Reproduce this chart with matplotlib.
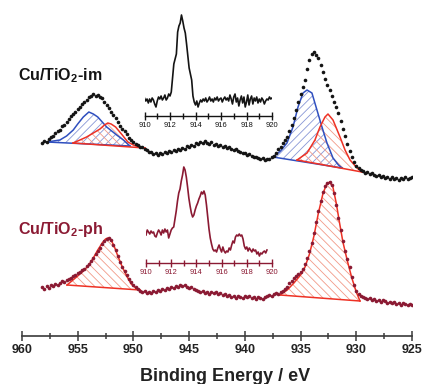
import numpy as np
import matplotlib.pyplot as plt
from matplotlib.ticker import MultipleLocator

plt.rcParams['font.family'] = ['Liberation Sans', 'DejaVu Sans']
plt.rcParams['mathtext.fontset'] = 'custom'
plt.rcParams['mathtext.rm'] = 'Liberation Sans'
plt.rcParams['mathtext.bf'] = 'Liberation Sans:bold'
plt.rcParams['hatch.linewidth'] = 0.6

BLACK = '#141414'
WINE = '#8b1a33'
BLUE = '#2f4fbf'
RED = '#ee3124'
BLUE_H = '#8796d6'
RED_H = '#f29a88'

# Cu 2p survey, binding energy from 958.2 eV down in 0.2 eV steps
be_start, be_step = 958.2, 0.2
im_counts = [193, 195, 194, 197, 199, 200, 203, 205, 206, 210, 211, 214, 217, 220, 222, 224,
             227, 229, 232, 234, 236, 239, 240, 242, 240, 241, 239, 238, 234, 231, 228, 224,
             221, 218, 214, 210, 207, 205, 202, 198, 196, 194, 192, 191, 189, 189, 187, 186,
             184, 184, 182, 183, 181, 183, 182, 184, 183, 185, 184, 186, 185, 187, 186, 188,
             187, 190, 189, 191, 190, 193, 192, 194, 193, 195, 193, 192, 194, 191, 192, 190,
             191, 189, 190, 188, 189, 187, 186, 187, 185, 184, 183, 183, 181, 182, 180, 179,
             179, 178, 177, 178, 176, 177, 177, 179, 180, 183, 187, 189, 193, 196, 199, 205,
             211, 218, 226, 234, 242, 249, 256, 267, 276, 282, 284, 281, 278, 271, 264, 257,
             251, 246, 240, 234, 229, 223, 215, 207, 200, 192, 185, 179, 174, 170, 168, 166,
             165, 163, 164, 162, 163, 161, 160, 161, 159, 160, 158, 159, 157, 159, 157, 158,
             156, 158, 157, 159, 157, 158, 159]
ph_counts = [49, 47, 50, 48, 51, 50, 52, 51, 53, 55, 54, 56, 57, 58, 60, 61,
             63, 64, 66, 67, 70, 72, 75, 78, 82, 85, 88, 92, 95, 97, 98, 96,
             91, 86, 80, 74, 69, 65, 61, 57, 54, 51, 49, 47, 45, 44, 45, 43,
             44, 43, 45, 44, 46, 45, 47, 46, 48, 47, 49, 48, 50, 49, 51, 50,
             51, 49, 48, 49, 47, 46, 45, 44, 45, 43, 44, 42, 44, 43, 44, 42,
             43, 41, 42, 40, 41, 39, 40, 38, 40, 39, 38, 40, 39, 40, 38, 39,
             37, 39, 38, 37, 39, 40, 41, 40, 42, 43, 42, 44, 45, 47, 49, 53,
             55, 58, 60, 62, 64, 67, 72, 78, 85, 93, 103, 114, 125, 135, 144, 150,
             153, 154, 151, 143, 131, 118, 106, 95, 85, 77, 69, 59, 51, 45, 42, 40,
             39, 38, 37, 38, 36, 37, 35, 36, 34, 36, 35, 33, 34, 33, 34, 32,
             33, 31, 33, 32, 31, 32, 31]

# fitted components (binding energy, intensity); first/last points lie on the baseline
im_blue1_be = [957.76, 956.6, 956.0, 955.4, 955.0, 954.5, 954.0, 953.6, 953.2, 952.4, 951.5, 950.9, 950.31]
im_blue1_y = [194, 196, 200, 206, 212, 219, 224, 222, 219, 209, 201, 196, 190]
im_red1_be = [955.42, 954.8, 954.2, 953.6, 953.0, 952.6, 952.3, 952.0, 951.6, 951.0, 950.5, 950.0, 949.5, 948.96]
im_red1_y = [193, 196, 199, 203, 207, 211, 213, 212, 209, 201, 194, 191, 189, 188]
im_blue2_be = [937.47, 936.8, 936.22, 935.68, 935.23, 934.78, 934.42, 933.98, 933.53, 933.08, 932.63, 932.09, 931.6, 931.28]
im_blue2_y = [179, 185, 193, 209, 229, 243, 246, 243, 226, 209, 193, 178, 171, 168]
im_red2_be = [935.32, 934.42, 933.71, 933.26, 932.81, 932.54, 932.09, 931.46, 931.01, 930.56, 929.93, 929.49]
im_red2_y = [176, 183, 196, 209, 219, 222, 216, 199, 186, 176, 168, 164]
ph_fit1_be = [955.96, 955.0, 954.4, 954.0, 953.6, 953.2, 952.8, 952.5, 952.3, 952.0, 951.7, 951.4, 951.0, 950.6, 950.2, 949.8, 949.41]
ph_fit1_y = [51, 60, 66, 71, 78, 86, 93, 97, 98, 96, 89, 80, 69, 60, 52, 48, 46]
ph_fit2_be = [936.85, 936.2, 935.6, 935.0, 934.6, 934.2, 933.8, 933.4, 933.0, 932.7, 932.4, 932.1, 931.8, 931.5, 931.2, 930.8, 930.4, 930.0, 929.67]
ph_fit2_y = [41, 46, 53, 61, 69, 82, 100, 123, 142, 151, 154, 149, 133, 113, 94, 75, 58, 44, 35]

# Cu LMM Auger insets, kinetic energy from 910 eV in 0.1 eV steps
ins_start, ins_step = 910.0, 0.1
im_auger = [18, 15, 17, 13, 17, 14, 18, 16, 12, 9, 15, 19, 17, 20, 16, 18, 21, 16, 18, 22,
            20, 24, 38, 52, 57, 62, 84, 90, 93, 101, 95, 88, 83, 72, 60, 48, 42, 36, 20, 14,
            11, 15, 9, 13, 16, 14, 17, 15, 18, 14, 16, 19, 15, 17, 14, 18, 16, 19, 15, 17,
            18, 14, 17, 19, 16, 18, 15, 21, 17, 12, 19, 22, 14, 18, 10, 16, 20, 13, 19, 9,
            14, 21, 11, 17, 20, 12, 18, 15, 19, 13, 17, 14, 18, 16, 12, 15, 17, 16, 19, 17, 18]
ph_auger = [28, 33, 31, 29, 32, 30, 31, 27, 26, 30, 33, 31, 28, 33, 30, 34, 31, 33, 25, 29,
            33, 35, 36, 44, 52, 62, 70, 74, 82, 88, 96, 93, 86, 76, 65, 57, 50, 46, 48, 53,
            57, 60, 64, 67, 71, 69, 72, 68, 58, 46, 34, 25, 19, 14, 12, 13, 11, 15, 18, 14,
            11, 16, 12, 10, 12, 11, 15, 13, 18, 22, 20, 26, 28, 27, 29, 27, 28, 24, 17, 14,
            16, 12, 15, 13, 11, 14, 12, 13, 9, 11, 7, 10, 9, 11, 12, 10, 13]

main_ticks = [960, 955, 950, 945, 940, 935, 930, 925]


def add_component(ax, be, y, line_color, hatch_color, hatch):
    ax.fill(be, y, facecolor='none', edgecolor=hatch_color, hatch=hatch, linewidth=0, zorder=1)
    ax.plot(be, y, color=line_color, lw=1.1, zorder=2)
    ax.plot([be[0], be[-1]], [y[0], y[-1]], color=line_color, lw=1.1, zorder=2)


def style_inset(ax, color):
    ax.set_xlim(910, 920)
    for s in ['left', 'right', 'top']:
        ax.spines[s].set_visible(False)
    ax.spines['bottom'].set_color(color)
    ax.spines['bottom'].set_linewidth(1.0)
    ax.set_yticks([])
    ax.xaxis.set_major_locator(MultipleLocator(2))
    ax.xaxis.set_minor_locator(MultipleLocator(1))
    ax.tick_params(axis='x', which='major', direction='inout', length=6, width=1.0,
                   color=color, labelcolor=color, labelsize=5.5, pad=1)
    ax.tick_params(axis='x', which='minor', direction='inout', length=4, width=1.0, color=color)
    ax.patch.set_alpha(0)


fig = plt.figure(figsize=(4.23, 3.84), dpi=100)
ax = fig.add_axes([22 / 423, 48 / 384, 390 / 423, 336 / 384])
ax.set_xlim(960, 925)
ax.set_ylim(0, 336)
ax.patch.set_alpha(0)

im_be = be_start - be_step * np.arange(len(im_counts))
ph_be = be_start - be_step * np.arange(len(ph_counts))

add_component(ax, im_blue1_be, im_blue1_y, BLUE, BLUE_H, '////')
add_component(ax, im_red1_be, im_red1_y, RED, RED_H, '\\\\\\\\')
add_component(ax, im_blue2_be, im_blue2_y, BLUE, BLUE_H, '////')
add_component(ax, im_red2_be, im_red2_y, RED, RED_H, '\\\\\\\\')
add_component(ax, ph_fit1_be, ph_fit1_y, RED, RED_H, '\\\\\\\\')
add_component(ax, ph_fit2_be, ph_fit2_y, RED, RED_H, '\\\\\\\\')

ax.plot(im_be, im_counts, 'o', color=BLACK, ms=2.6, mew=0, zorder=3)
ax.plot(ph_be, ph_counts, 'o', color=WINE, ms=2.6, mew=0, zorder=3)

for s in ['left', 'right', 'top']:
    ax.spines[s].set_visible(False)
ax.spines['bottom'].set_color('#3a3a3a')
ax.spines['bottom'].set_linewidth(1.2)
ax.set_yticks([])
ax.set_xticks(main_ticks)
ax.xaxis.set_minor_locator(MultipleLocator(2.5))
ax.tick_params(axis='x', which='major', direction='inout', length=7, width=1.1,
               color='#3a3a3a', labelsize=9, pad=2, labelcolor='#222222')
ax.tick_params(axis='x', which='minor', direction='inout', length=4.5, width=1.1, color='#3a3a3a')
for lab in ax.get_xticklabels():
    lab.set_fontweight('bold')

# insets
ax_top = fig.add_axes([144.5 / 423, (384 - 116) / 384, 127.5 / 423, 106 / 384])
ax_top.set_ylim(0, 106)
ax_top.plot(ins_start + ins_step * np.arange(len(im_auger)), im_auger, color=BLACK, lw=1.2)
style_inset(ax_top, BLACK)

ax_bot = fig.add_axes([146 / 423, (384 - 263) / 384, 126 / 423, 110 / 384])
ax_bot.set_ylim(0, 110)
ax_bot.plot(ins_start + ins_step * np.arange(len(ph_auger)), ph_auger, color=WINE, lw=1.2)
style_inset(ax_bot, WINE)

fig.text(18 / 423, (384 - 80) / 384, r'Cu/TiO$_\mathbf{2}$-im', fontsize=11.5,
         fontweight='bold', color=BLACK, va='baseline')
fig.text(18 / 423, (384 - 234) / 384, r'Cu/TiO$_\mathbf{2}$-ph', fontsize=11.5,
         fontweight='bold', color=WINE, va='baseline')
fig.text(225 / 423, 3 / 384, 'Binding Energy / eV', fontsize=13, fontweight='bold',
         color='#222222', ha='center', va='baseline')

fig.savefig('out.png', dpi=100)
